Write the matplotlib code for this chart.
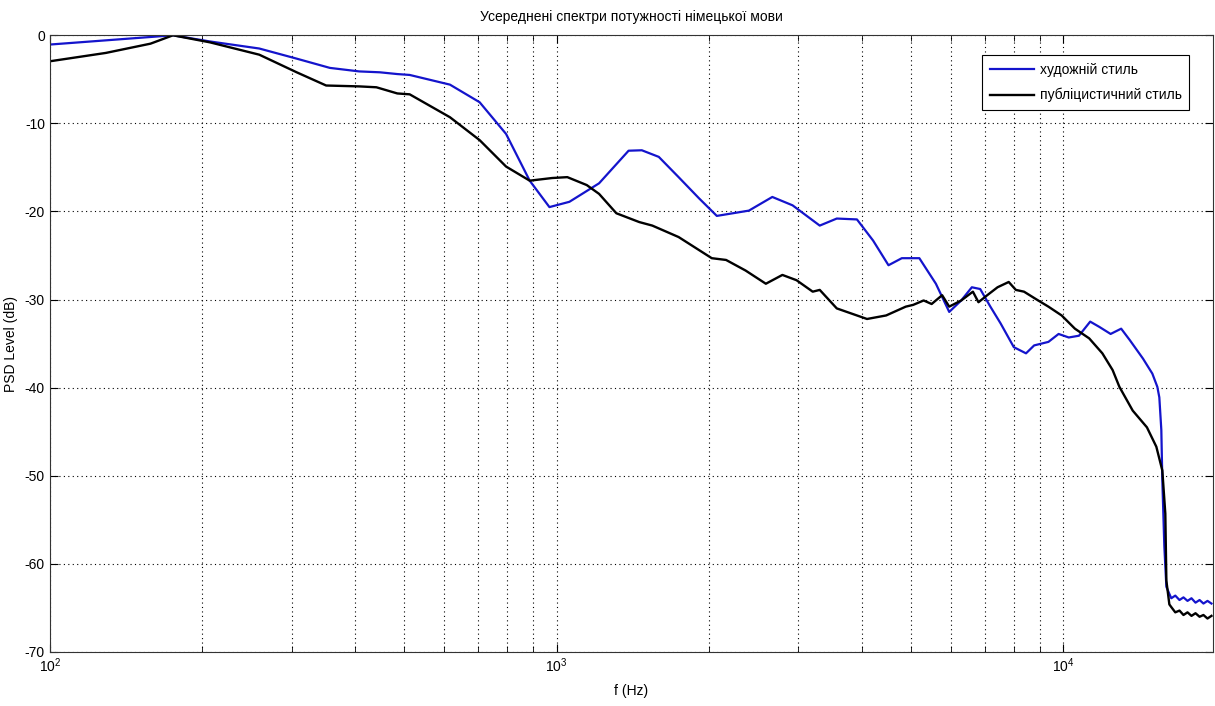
import matplotlib.pyplot as plt
import numpy as np

plt.rcParams['font.family'] = ['Liberation Sans', 'DejaVu Sans']
plt.rcParams['axes.unicode_minus'] = False

# averaged PSD, fiction style (Hz, dB)
f_art = [100, 175, 207, 259, 307, 357, 408, 448, 485, 513, 616, 705, 795, 885,
         968, 1060, 1213, 1387, 1473, 1591, 1741, 1910, 2071, 2396, 2665, 2922,
         3306, 3572, 3915, 4213, 4518, 4800, 5198, 5604, 5954, 6287, 6599, 6853,
         7178, 7519, 7985, 8440, 8758, 9345, 9787, 10250, 10736, 11297, 11778,
         12396, 13005, 13525, 14360, 14983, 15327, 15467, 15608, 15679, 15822,
         15970, 16188, 16330, 16630, 16950, 17260, 17580, 17900, 18230, 18570,
         18900, 19250, 19600]
p_art = [-1.05, 0.0, -0.7, -1.5, -2.65, -3.7, -4.1, -4.2, -4.4, -4.5, -5.6, -7.6,
         -11.2, -16.5, -19.5, -18.9, -16.8, -13.1, -13.05, -13.8, -16.1, -18.5,
         -20.5, -19.9, -18.35, -19.3, -21.6, -20.8, -20.9, -23.3, -26.1, -25.3,
         -25.3, -28.2, -31.4, -30.1, -28.6, -28.8, -30.8, -32.7, -35.4, -36.1,
         -35.2, -34.8, -33.9, -34.3, -34.1, -32.5, -33.1, -33.9, -33.3, -34.6,
         -36.7, -38.4, -39.9, -41.1, -44.8, -50.5, -58.0, -62.6, -63.4, -63.9,
         -63.6, -64.1, -63.8, -64.2, -63.9, -64.4, -64.1, -64.5, -64.2, -64.5]

# averaged PSD, journalistic style (Hz, dB)
f_pub = [100, 129, 158, 175, 207, 259, 307, 351, 408, 441, 485, 513, 616, 705,
         795, 885, 980, 1050, 1147, 1213, 1312, 1456, 1545, 1741, 2024, 2160,
         2360, 2588, 2790, 2975, 3202, 3306, 3572, 4098, 4470, 4887, 5054, 5301,
         5497, 5765, 5954, 6287, 6630, 6800, 7077, 7416, 7802, 8059, 8363, 8920,
         9345, 9923, 10539, 11246, 11940, 12510, 12900, 13705, 14620, 15258,
         15679, 15894, 15970, 16188, 16330, 16630, 16950, 17260, 17580, 17900,
         18230, 18570, 18900, 19250, 19600]
p_pub = [-2.95, -2.0, -0.95, 0.0, -0.8, -2.2, -4.2, -5.7, -5.8, -5.9, -6.6, -6.7,
         -9.3, -11.9, -14.9, -16.5, -16.2, -16.1, -17.0, -18.0, -20.2, -21.2,
         -21.6, -22.9, -25.3, -25.5, -26.7, -28.2, -27.2, -27.8, -29.1, -28.9,
         -31.0, -32.2, -31.8, -30.8, -30.6, -30.1, -30.5, -29.5, -30.8, -30.1,
         -29.1, -30.3, -29.5, -28.6, -28.0, -28.9, -29.1, -30.1, -30.8, -31.8,
         -33.3, -34.4, -36.1, -38.0, -39.9, -42.6, -44.5, -46.7, -49.4, -54.3,
         -61.9, -64.6, -64.9, -65.5, -65.3, -65.8, -65.5, -65.9, -65.6, -66.0,
         -65.8, -66.2, -65.9]

fig = plt.figure(figsize=(12.15, 7.06), dpi=100)
ax = fig.add_axes([0.041, 0.0765, 0.957, 0.8735])

ax.semilogx(f_art, p_art, color='#1414cc', lw=1.6, label='художній стиль')
ax.semilogx(f_pub, p_pub, color='black', lw=1.7, label='публіцистичний стиль')

ax.set_xlim(100, 19700)
ax.set_ylim(-70, 0)
ax.set_yticks(np.arange(-70, 1, 10))

ax.grid(True, which='major', axis='both', color='black', linestyle=(0, (1, 3)), lw=0.8)
ax.grid(True, which='minor', axis='x', color='black', linestyle=(0, (1, 3)), lw=0.8)
ax.tick_params(which='both', direction='in', top=True, right=True, labelsize=10)
ax.tick_params(which='major', length=6)
ax.tick_params(which='minor', length=4)
for s in ax.spines.values():
    s.set_color('#333333')

ax.set_title('Усереднені спектри потужності німецької мови', fontsize=10, pad=10)
ax.set_xlabel('f (Hz)', fontsize=10, labelpad=6)
ax.set_ylabel('PSD Level (dB)', fontsize=10)
ax.yaxis.set_label_coords(-0.027, 0.5)

leg = ax.legend(loc='upper right', bbox_to_anchor=(0.980, 0.9676), borderaxespad=0,
                fontsize=10, fancybox=False, edgecolor='black', framealpha=1,
                handlelength=3.2, borderpad=0.55, labelspacing=0.8, handletextpad=0.4)
leg.get_frame().set_linewidth(0.8)

fig.savefig('out.png', dpi=100)
